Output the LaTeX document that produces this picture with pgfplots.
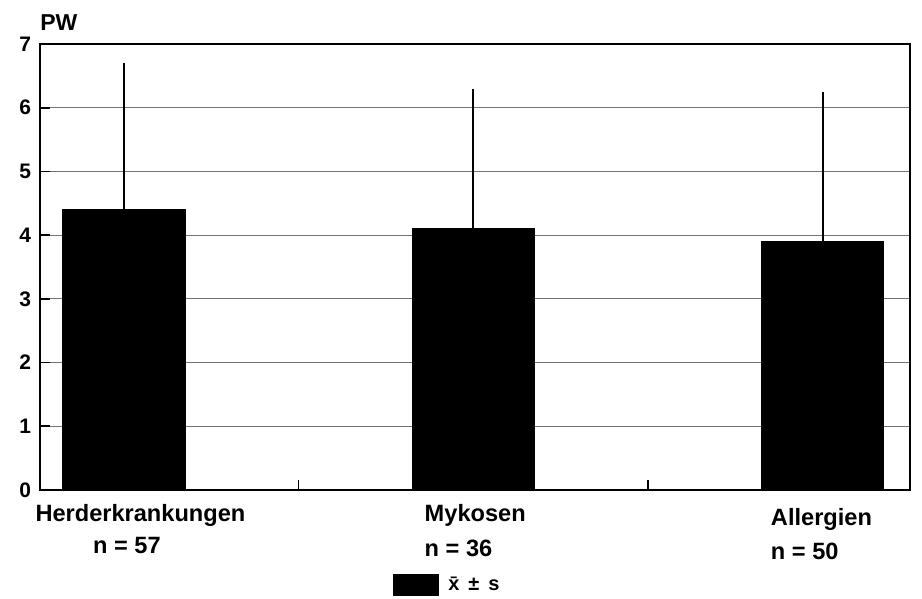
\documentclass[border=0pt]{standalone}
\usepackage{pgfplots}
\pgfplotsset{compat=1.18}
\usepackage{fontspec}
\setmainfont{Liberation Sans}
\begin{document}
\begin{tikzpicture}
\useasboundingbox (-20pt,-54.5pt) rectangle (441pt,245pt);
\begin{axis}[
    at={(0,0)}, anchor=south west,
    width=435pt, height=223pt, scale only axis,
    xmin=-0.24, xmax=2.25,
    ymin=0, ymax=7,
    ytick={0,1,2,3,4,5,6,7},
    xtick={0.5,1.5}, xticklabels={},
    xtick pos=bottom, ytick pos=left,
    tick align=inside,
    major tick length=5pt,
    tick style={black, line width=0.8pt},
    axis line style={line width=1pt},
    ymajorgrids=true,
    grid style={black!55, line width=0.5pt},
    yticklabel style={font=\bfseries\fontsize{10.5}{12}\selectfont, xshift=-1pt},
    /pgf/number format/assume math mode=true,
    clip=false,
    legend style={at={(0.398,-0.213)}, anchor=west, draw=none, fill=none,
        font=\bfseries\fontsize{10}{11}\selectfont},
    legend image code/.code={\fill[black] (0pt,-5.2pt) rectangle (22.5pt,5.2pt);},
]
\addplot[ybar, bar width=0.35, fill=black, draw=black,
    error bars/.cd, y dir=plus, y explicit, error mark=none,
    error bar style={line width=0.9pt}]
    coordinates {
    (0,4.4) +- (0,2.3)
    (1,4.1) +- (0,2.2)
    (2,3.9) +- (0,2.35)
    };
\addlegendentry{\hspace{3pt}\=x \,±\, s}
\node[anchor=base west, font=\bfseries\fontsize{11.8}{13}\selectfont, inner sep=0pt] at (axis cs:-0.254,-0.487) {Herderkrankungen};
\node[anchor=base west, font=\bfseries\fontsize{11.8}{13}\selectfont, inner sep=0pt] at (axis cs:-0.089,-0.99) {n = 57};
\node[anchor=base west, font=\bfseries\fontsize{11.8}{13}\selectfont, inner sep=0pt] at (axis cs:0.86,-0.50) {Mykosen};
\node[anchor=base west, font=\bfseries\fontsize{11.8}{13}\selectfont, inner sep=0pt] at (axis cs:0.86,-1.04) {n = 36};
\node[anchor=base west, font=\bfseries\fontsize{11.8}{13}\selectfont, inner sep=0pt] at (axis cs:1.851,-0.55) {Allergien};
\node[anchor=base west, font=\bfseries\fontsize{11.8}{13}\selectfont, inner sep=0pt] at (axis cs:1.851,-1.09) {n = 50};
\node[anchor=base west, font=\bfseries\fontsize{11.5}{13}\selectfont, inner sep=0pt] at (rel axis cs:0,1.03) {PW};
\end{axis}
\end{tikzpicture}
\end{document}
